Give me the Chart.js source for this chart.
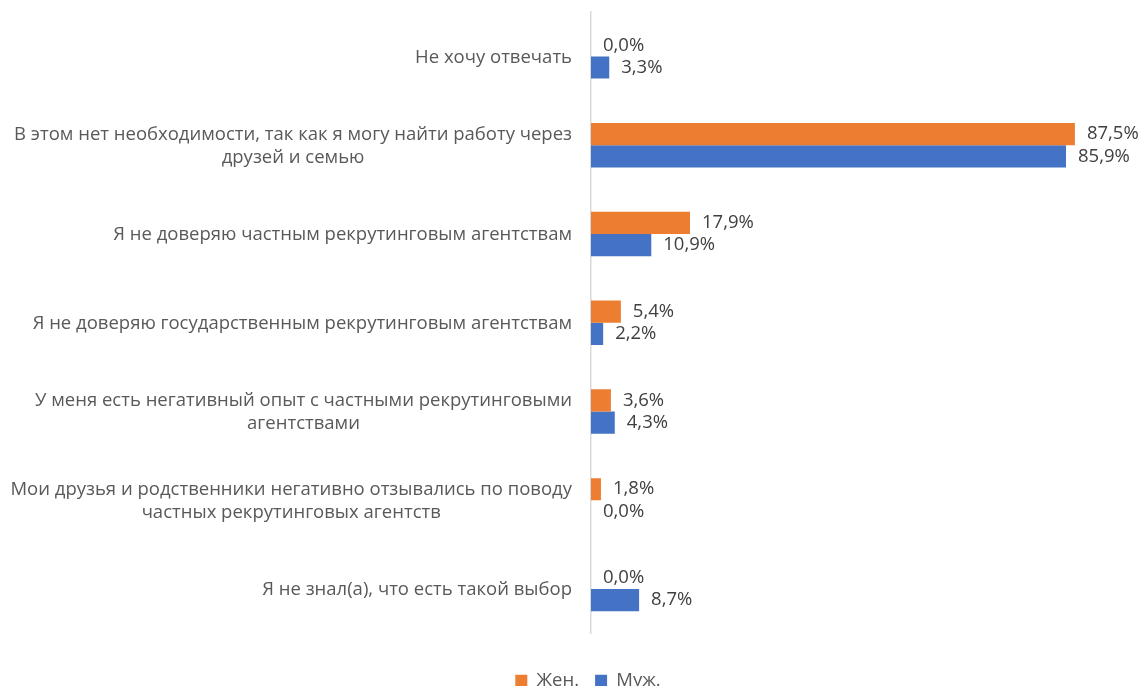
<!DOCTYPE html>
<html lang="ru">
<head>
<meta charset="utf-8">
<title>Причины</title>
<script src="https://cdn.jsdelivr.net/npm/chart.js@4.4.0/dist/chart.umd.min.js"></script>
<style>
  html, body { margin: 0; padding: 0; background: #fff; overflow: hidden; }
  #wrap { width: 1144px; height: 700px; position: relative; }
</style>
</head>
<body>
<div id="wrap"><canvas id="chart"></canvas></div>
<script>
/* ── Data ─────────────────────────────────────────────────────── */
const CATEGORIES = [
  ['Не хочу отвечать'],
  ['В этом нет необходимости, так как я могу найти работу через', 'друзей и семью'],
  ['Я не доверяю частным рекрутинговым агентствам'],
  ['Я не доверяю государственным рекрутинговым агентствам'],
  ['У меня есть негативный опыт с частными рекрутинговыми', 'агентствами'],
  ['Мои друзья и родственники негативно отзывались по поводу', 'частных рекрутинговых агентств'],
  ['Я не знал(а), что есть такой выбор'],
];
const SERIES_NAMES = ['Жен.', 'Муж.'];
const WOMEN = [0.0, 87.5, 17.9, 5.4, 3.6, 1.8, 0.0];
const MEN   = [3.3, 85.9, 10.9, 2.2, 4.3, 0.0, 8.7];

const FONT = "'Open Sans', 'Noto Sans', sans-serif";
const FONT_SIZE = 18.5;

const fmt = v => v.toFixed(1).replace('.', ',') + '%';

/* ── Value labels after each bar ─────────────────────────────── */
const valueLabels = {
  id: 'valueLabels',
  afterDatasetsDraw(chart) {
    const ctx = chart.ctx;
    ctx.save();
    ctx.font = `${FONT_SIZE}px ${FONT}`;
    ctx.fillStyle = '#404040';
    ctx.textAlign = 'left';
    ctx.textBaseline = 'middle';
    chart.data.datasets.forEach((ds, i) => {
      chart.getDatasetMeta(i).data.forEach((bar, j) => {
        ctx.fillText(fmt(ds.data[j]), bar.x + 12, bar.y);
      });
    });
    ctx.restore();
  },
};

/* ── Category labels: block right-aligned, lines centred ─────── */
const categoryLabels = {
  id: 'categoryLabels',
  afterDraw(chart) {
    const ctx = chart.ctx;
    const y = chart.scales.y;
    const right = y.right - 19;
    const lineH = 23;
    ctx.save();
    ctx.font = `${FONT_SIZE}px ${FONT}`;
    ctx.fillStyle = '#595959';
    ctx.textAlign = 'center';
    ctx.textBaseline = 'middle';
    CATEGORIES.forEach((lines, i) => {
      const cy = y.getPixelForTick(i) + 1;
      const w = Math.max(...lines.map(l => ctx.measureText(l).width));
      const cx = right - w / 2;
      const y0 = cy - (lines.length - 1) * lineH / 2;
      lines.forEach((l, k) => ctx.fillText(l, cx, y0 + k * lineH));
    });
    ctx.restore();
  },
};

new Chart(document.getElementById('chart'), {
  type: 'bar',
  data: {
    labels: CATEGORIES.map(c => c.join(' ')),
    datasets: [
      { label: SERIES_NAMES[0], data: WOMEN, backgroundColor: '#ED7D31' },
      { label: SERIES_NAMES[1], data: MEN,   backgroundColor: '#4472C4' },
    ],
  },
  options: {
    indexAxis: 'y',
    responsive: true,
    maintainAspectRatio: false,
    animation: false,
    layout: { padding: { top: 12, left: 32, right: 0, bottom: 0 } },
    datasets: { bar: { categoryPercentage: 0.5, barPercentage: 1.0 } },
    plugins: {
      tooltip: { enabled: false },
      legend: {
        position: 'bottom',
        labels: {
          color: '#595959',
          font: { family: FONT, size: FONT_SIZE },
          boxWidth: 12,
          boxHeight: 12,
          padding: 16,
        },
      },
    },
    scales: {
      x: {
        min: 0,
        max: 100,
        grid: { display: false },
        border: { display: false },
        ticks: { display: false },
        afterFit: s => { s.height = 22; },
      },
      y: {
        grid: { display: false },
        border: { display: true, color: '#D9D9D9', width: 1.5 },
        ticks: { display: false },
        afterFit: s => { s.width = 559; },
      },
    },
  },
  plugins: [valueLabels, categoryLabels],
});
</script>
</body>
</html>
